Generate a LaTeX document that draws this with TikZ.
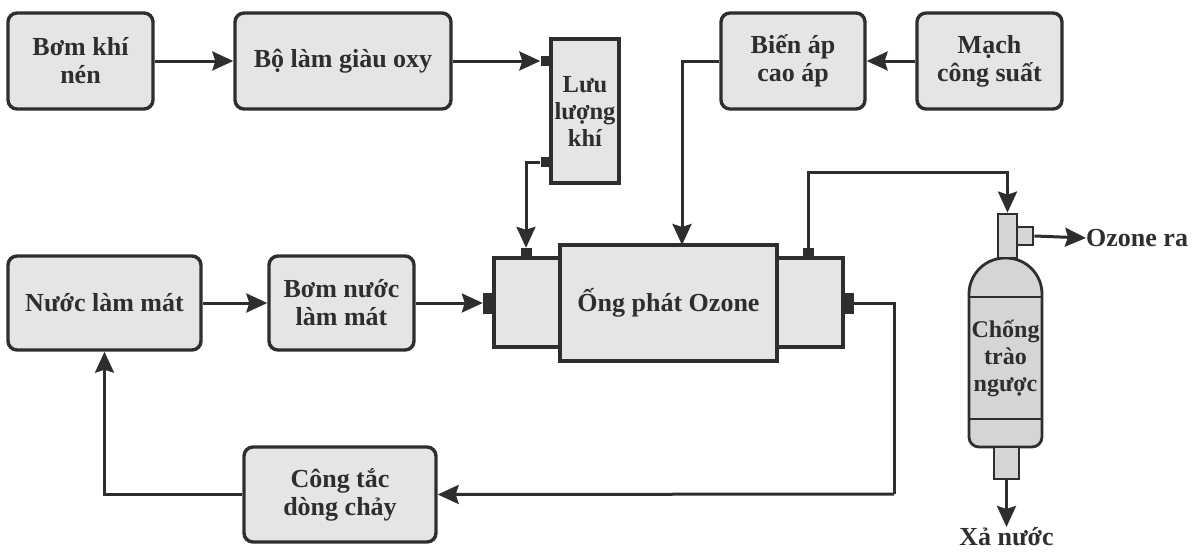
\documentclass[tikz,border=0pt]{standalone}
\usepackage{fontspec}
\setmainfont{Liberation Serif}
\usetikzlibrary{arrows.meta,calc}
\definecolor{boxfill}{RGB}{228,229,231}
\definecolor{vesselfill}{RGB}{212,213,215}
\definecolor{ink}{RGB}{46,46,46}
\tikzset{
  blk/.style={draw=ink, line width=3.4pt, fill=boxfill, rounded corners=9pt,
    align=center, text=ink, font=\fontsize{26}{28}\selectfont\bfseries, inner sep=0pt},
  sq/.style={draw=ink, line width=3.4pt, fill=boxfill, align=center, text=ink,
    font=\fontsize{26}{28}\selectfont\bfseries, inner sep=0pt},
  tab/.style={draw=none, fill=ink, inner sep=0pt},
  arr/.style={draw=ink, line width=3pt, -{Stealth[length=21pt,width=19pt,inset=3pt]}},
  pipe/.style={draw=ink, line width=3pt},
  vessel/.style={draw=ink, line width=2.8pt, fill=vesselfill},
  lbl/.style={text=ink, font=\fontsize{26}{28}\selectfont\bfseries, inner sep=0pt}
}
\begin{document}
\begin{tikzpicture}[x=1pt, y=-1pt]
\useasboundingbox (0,0) rectangle (1204,554);

% upper gas line
\node[blk, minimum width=145, minimum height=96] (bomkhi) at (80.5,61) {Bơm khí\\nén};
\node[blk, minimum width=216, minimum height=96] (bolam) at (343,61) {Bộ làm giàu oxy};
\node[sq, minimum width=68, minimum height=144, font=\fontsize{24.5}{27}\selectfont\bfseries] (luu) at (585,111) {Lưu\\lượng\\khí};
\node[tab, minimum width=11, minimum height=10] (luuin) at (546,61) {};
\node[tab, minimum width=11, minimum height=10] (luuout) at (546,162) {};

% high voltage supply
\node[blk, minimum width=144, minimum height=96] (bienap) at (793,61) {Biến áp\\cao áp};
\node[blk, minimum width=145, minimum height=96] (mach) at (989.5,61) {Mạch\\công suất};

% cooling water
\node[blk, minimum width=193, minimum height=94] (nuoc) at (104.5,303) {Nước làm mát};
\node[blk, minimum width=145, minimum height=94] (bomnuoc) at (341.5,303) {Bơm nước\\làm mát};
\node[blk, minimum width=192, minimum height=95] (congtac) at (340,494.5) {Công tắc\\dòng chảy};

% ozone generator tube with its two end caps
\node[sq, minimum width=66, minimum height=89] (capL) at (527,302.5) {};
\node[sq, minimum width=66, minimum height=89] (capR) at (810,302.5) {};
\node[sq, minimum width=217, minimum height=116] (tube) at (668.5,303) {Ống phát Ozone};
\node[tab, minimum width=11, minimum height=10] (capLtop) at (526,253) {};
\node[tab, minimum width=11, minimum height=21] (capLside) at (488.5,303) {};
\node[tab, minimum width=11, minimum height=10] (capRtop) at (808,253) {};
\node[tab, minimum width=11, minimum height=21] (capRside) at (848.5,303) {};
\coordinate (hvin) at (682,245);

% anti-backflow vessel
\path[vessel] (969,350) [rounded corners=36pt] -- (969,258) -- (1042,258) -- (1042,350)
  [rounded corners=10pt] -- (1042,447) -- (969,447) -- cycle;
\draw[draw=ink, line width=2.8pt] (969,297) -- (1042,297) (969,419) -- (1042,419);
\node[vessel, inner sep=0pt, minimum width=19, minimum height=44] (neck) at (1007.5,236) {};
\node[vessel, inner sep=0pt, minimum width=16, minimum height=18] (outlet) at (1025,236) {};
\node[vessel, inner sep=0pt, minimum width=25, minimum height=32] (drain) at (1006.5,463) {};
\node[lbl, align=center, font=\fontsize{24}{27}\selectfont\bfseries] (chong) at (1005.5,358) {Chống\\trào\\ngược};
\node[lbl, anchor=west] (ozout) at (1086,238) {Ozone ra};
\node[lbl, anchor=north] (xa) at (1006.5,527) {Xả nước};

% connectors
\coordinate (rise) at (808,172);
\coordinate (ret) at (894,494);
\draw[arr] (bomkhi.east) -- (bolam.west);
\draw[arr] (bolam.east) -- (luuin.west);
\draw[arr] (luuout.west) -| (capLtop.north);
\draw[arr] (mach.west) -- (bienap.east);
\draw[arr] (bienap.west) -| (hvin);
\draw[arr] (nuoc.east) -- (bomnuoc.west);
\draw[arr] (bomnuoc.east) -- (capLside.west);
\draw[arr] (capRtop.north) -- (rise) -| (neck.north);
\draw[pipe] (capRside.east) -| (ret);
\draw[arr] (ret) -- (congtac.east);
\draw[arr] (congtac.west) -| (nuoc.south);
\draw[arr] (outlet.east) -- (ozout.west);
\draw[arr] (drain.south) -- (xa.north);
\end{tikzpicture}
\end{document}
